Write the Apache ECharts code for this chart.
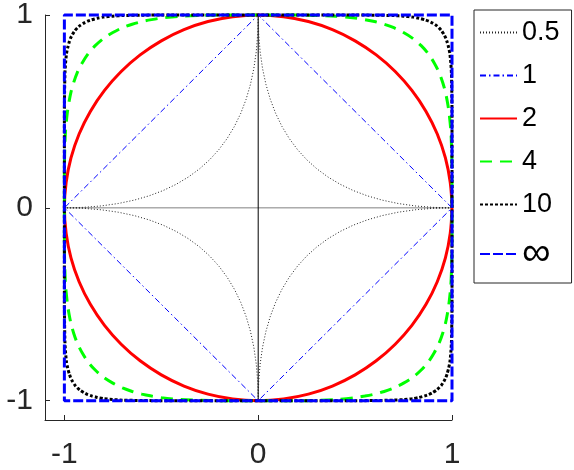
<!DOCTYPE html>
<html>
<head>
<meta charset="utf-8">
<script src="https://cdn.jsdelivr.net/npm/echarts@6/dist/echarts.min.js"></script>
<style>
  html, body { margin: 0; padding: 0; background: #fff; }
  #chart { width: 574px; height: 470px; }
</style>
</head>
<body>
<div id="chart"></div>
<script>
// first quadrant of each unit ball, from (1,0) round to (0,1)
var names = ["0.5", "1", "2", "4", "10", "∞"];

var p05X = [1, 0.9025, 0.81, 0.7225, 0.64, 0.5625, 0.49, 0.4225, 0.36, 0.3025, 0.25, 0.2025, 0.16, 0.1225, 0.09, 0.0625, 0.04, 0.0225, 0.01, 0.0025, 0];
var p05Y = [0, 0.0025, 0.01, 0.0225, 0.04, 0.0625, 0.09, 0.1225, 0.16, 0.2025, 0.25, 0.3025, 0.36, 0.4225, 0.49, 0.5625, 0.64, 0.7225, 0.81, 0.9025, 1];

var p1X = [1, 0];
var p1Y = [0, 1];

var p2X = [1, 0.991, 0.966, 0.924, 0.866, 0.793, 0.707, 0.609, 0.5, 0.383, 0.259, 0.131, 0];
var p2Y = [0, 0.131, 0.259, 0.383, 0.5, 0.609, 0.707, 0.793, 0.866, 0.924, 0.966, 0.991, 1];

var p4X = [1, 1, 0.998, 0.994, 0.984, 0.976, 0.966, 0.952, 0.934, 0.909, 0.877, 0.841, 0.8, 0.75, 0.7, 0.65, 0.6, 0.55, 0.5, 0.4, 0.3, 0.2, 0];
var p4Y = [0, 0.2, 0.3, 0.4, 0.5, 0.55, 0.6, 0.65, 0.7, 0.75, 0.8, 0.841, 0.877, 0.909, 0.934, 0.952, 0.966, 0.976, 0.984, 0.994, 0.998, 1, 1];

var p10X = [1, 1, 0.999, 0.997, 0.994, 0.989, 0.983, 0.975, 0.968, 0.958, 0.945, 0.933, 0.92, 0.9, 0.88, 0.86, 0.83, 0.8, 0.75, 0.7, 0.6, 0.5, 0];
var p10Y = [0, 0.5, 0.6, 0.7, 0.75, 0.8, 0.83, 0.86, 0.88, 0.9, 0.92, 0.933, 0.945, 0.958, 0.968, 0.975, 0.983, 0.989, 0.994, 0.997, 0.999, 1, 1];

var pInfX = [1, 1, 0];
var pInfY = [0, 1, 1];

var tickValues = [-1, 0, 1];

// mirror one quadrant into a closed curve
function ring(qx, qy) {
    var pts = [];
    var n = qx.length, i;
    function add(x, y) {
        var last = pts[pts.length - 1];
        if (last && last[0] === x && last[1] === y) return;
        pts.push([x, y]);
    }
    for (i = 0; i < n; i++) add(qx[i], qy[i]);
    for (i = n - 1; i >= 0; i--) add(-qx[i], qy[i]);
    for (i = 0; i < n; i++) add(-qx[i], -qy[i]);
    for (i = n - 1; i >= 0; i--) add(qx[i], -qy[i]);
    return pts;
}

function curve(name, qx, qy, color, width, type, smooth) {
    return {
        name: name,
        type: "line",
        data: ring(qx, qy),
        showSymbol: false,
        symbol: "none",
        smooth: smooth || false,
        clip: false,
        silent: true,
        animation: false,
        lineStyle: { color: color, width: width, type: type },
        itemStyle: { color: color }
    };
}

function straight(data, color) {
    return {
        type: "line",
        data: data,
        symbol: "none",
        silent: true,
        animation: false,
        lineStyle: { color: color, width: 1 }
    };
}

var axisColor = "#262626";

var chart = echarts.init(document.getElementById("chart"));
chart.setOption({
    backgroundColor: "#fff",
    animation: false,
    grid: { left: 45, right: 122, top: 14, bottom: 50 },
    xAxis: {
        type: "value",
        min: -1.1,
        max: 1,
        axisLine: { show: true, onZero: false, lineStyle: { color: axisColor, width: 1 } },
        axisTick: { show: true, inside: true, length: 5, customValues: tickValues, lineStyle: { color: axisColor } },
        axisLabel: {
            customValues: tickValues,
            fontFamily: "Liberation Sans",
            fontSize: 30,
            color: axisColor,
            margin: 20
        },
        splitLine: { show: false }
    },
    yAxis: {
        type: "value",
        min: -1.1,
        max: 1,
        axisLine: { show: true, onZero: false, lineStyle: { color: axisColor, width: 1 } },
        axisTick: { show: true, inside: true, length: 5, customValues: tickValues, lineStyle: { color: axisColor } },
        axisLabel: {
            customValues: tickValues,
            fontFamily: "Liberation Sans",
            fontSize: 30,
            color: axisColor,
            margin: 12
        },
        splitLine: { show: false }
    },
    legend: {
        data: names,
        orient: "vertical",
        left: 474,
        top: 10,
        padding: [9, 12, 9, 5],
        itemWidth: 37,
        itemHeight: 14,
        itemGap: 16,
        itemStyle: { opacity: 0 },
        borderColor: axisColor,
        borderWidth: 1,
        borderRadius: 0,
        selectedMode: false,
        formatter: function (name) {
            return name === "∞" ? "{inf|∞}" : name;
        },
        textStyle: {
            fontFamily: "Liberation Sans",
            fontSize: 27,
            color: "#000",
            rich: {
                inf: { fontFamily: "Liberation Sans", fontSize: 40, lineHeight: 27, color: "#000" }
            }
        }
    },
    series: [
        straight([[-1, 0], [1, 0]], "#808080"),
        straight([[0, -1], [0, 1]], "#000"),
        curve(names[0], p05X, p05Y, "#222", 1, [1, 2]),
        curve(names[1], p1X, p1Y, "#0000ff", 1, [6, 3, 1.5, 3]),
        curve(names[2], p2X, p2Y, "#ff0000", 3, "solid", 0.4),
        curve(names[3], p4X, p4Y, "#00ff00", 3, [12, 8], 0.3),
        curve(names[4], p10X, p10Y, "#000", 3, [3, 2], 0.2),
        curve(names[5], pInfX, pInfY, "#0000ff", 3, [10, 3])
    ]
});
</script>
</body>
</html>
